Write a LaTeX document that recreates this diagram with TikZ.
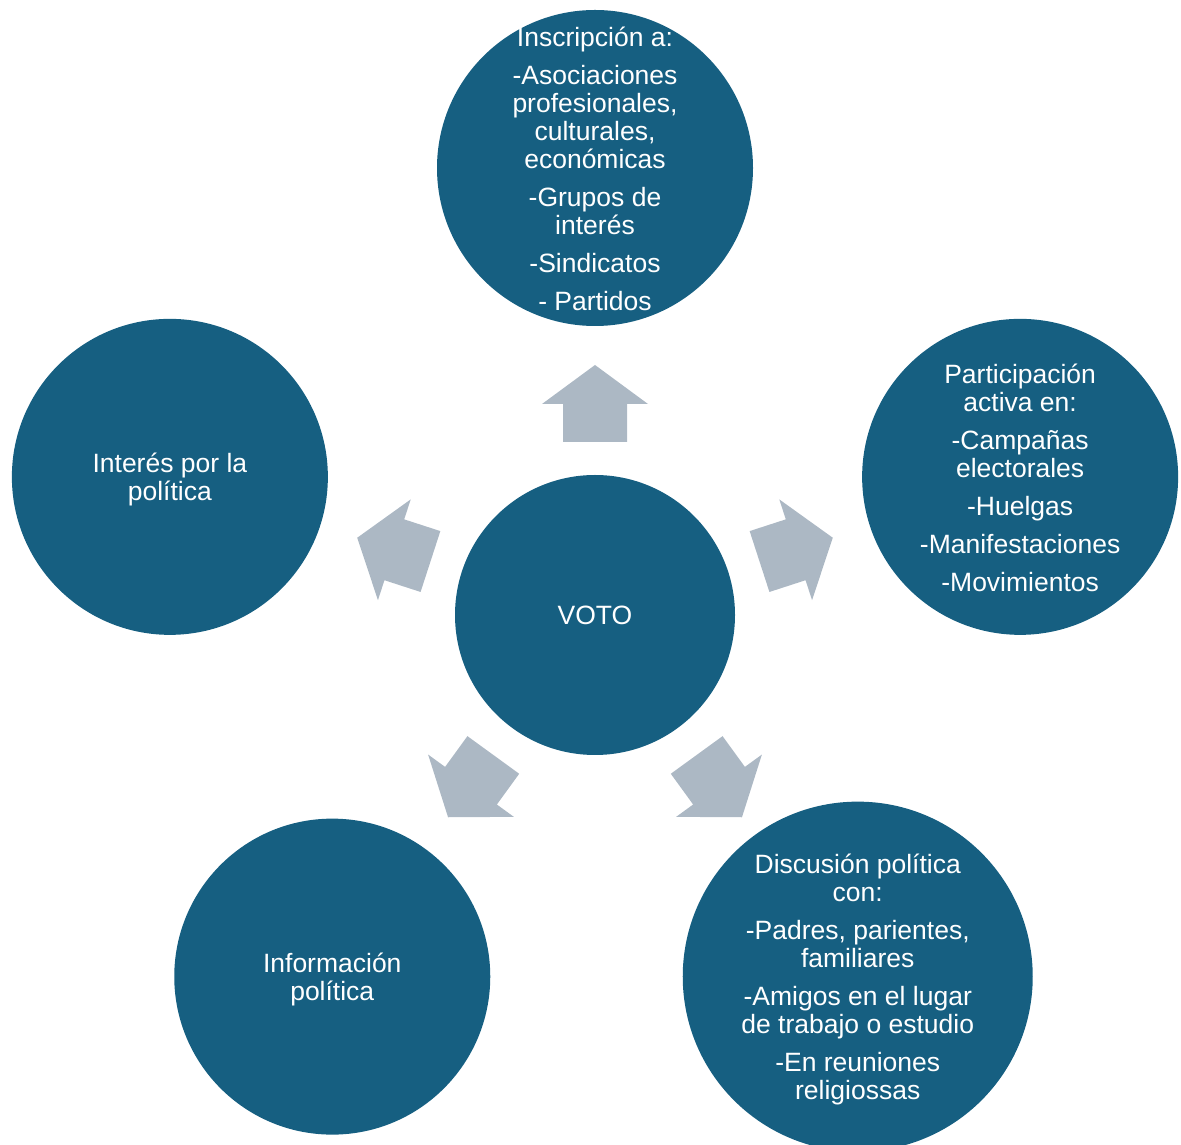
\documentclass[tikz,border=0pt]{standalone}
\usepackage{fontspec}
\setmainfont{Liberation Sans}
\usetikzlibrary{calc}
\definecolor{circ}{RGB}{22,95,129}
\definecolor{arr}{RGB}{172,184,196}
\begin{document}
\begin{tikzpicture}[x=1pt,y=1pt,
  bubble/.style={circle, fill=circ, inner sep=0pt},
  txt/.style={text=white, inner sep=0pt, align=center,
    font=\fontsize{26.5}{28}\selectfont},
  blockarrow/.style={fill=arr}]
\useasboundingbox (0,0) rectangle (1181,1144);
\node[bubble, minimum size=280] (voto) at (595,529) {};
\node[txt] (votot) at (voto.center) {VOTO};
\foreach \a in {90,18,162,234,306}
  \fill[blockarrow, shift={(voto.center)}, rotate=\a]
    (173,-32) -- (211,-32) -- (211,-53) -- (250,0) -- (211,53) -- (211,32) -- (173,32) -- cycle;
\node[bubble, minimum size=316] (insc) at ($(voto.center)+(90:447)$) {};
\node[txt, yshift=-1] (insct) at (insc.center)
  {Inscripción a:\\[10pt]-Asociaciones\\profesionales,\\culturales,\\económicas\\[10pt]-Grupos de\\interés\\[10pt]-Sindicatos\\[10pt]- Partidos};
\node[bubble, minimum size=316] (part) at ($(voto.center)+(18:447)$) {};
\node[txt, yshift=-1] (partt) at (part.center)
  {Participación\\activa en:\\[10pt]-Campañas\\electorales\\[10pt]-Huelgas\\[10pt]-Manifestaciones\\[10pt]-Movimientos};
\node[bubble, minimum size=316] (inter) at ($(voto.center)+(162:447)$) {};
\node[txt, yshift=-3] (intert) at (inter.center) {Interés por la\\política};
\node[bubble, minimum size=316] (info) at ($(voto.center)+(234:447)$) {};
\node[txt, yshift=-3] (infot) at (info.center) {Información\\política};
\node[bubble, minimum size=350] (disc) at ($(voto.center)+(306:447)$) {};
\node[txt, yshift=-3] (disct) at (disc.center)
  {Discusión política\\con:\\[10pt]-Padres, parientes,\\familiares\\[10pt]-Amigos en el lugar\\de trabajo o estudio\\[10pt]-En reuniones\\religiossas};
\end{tikzpicture}
\end{document}
